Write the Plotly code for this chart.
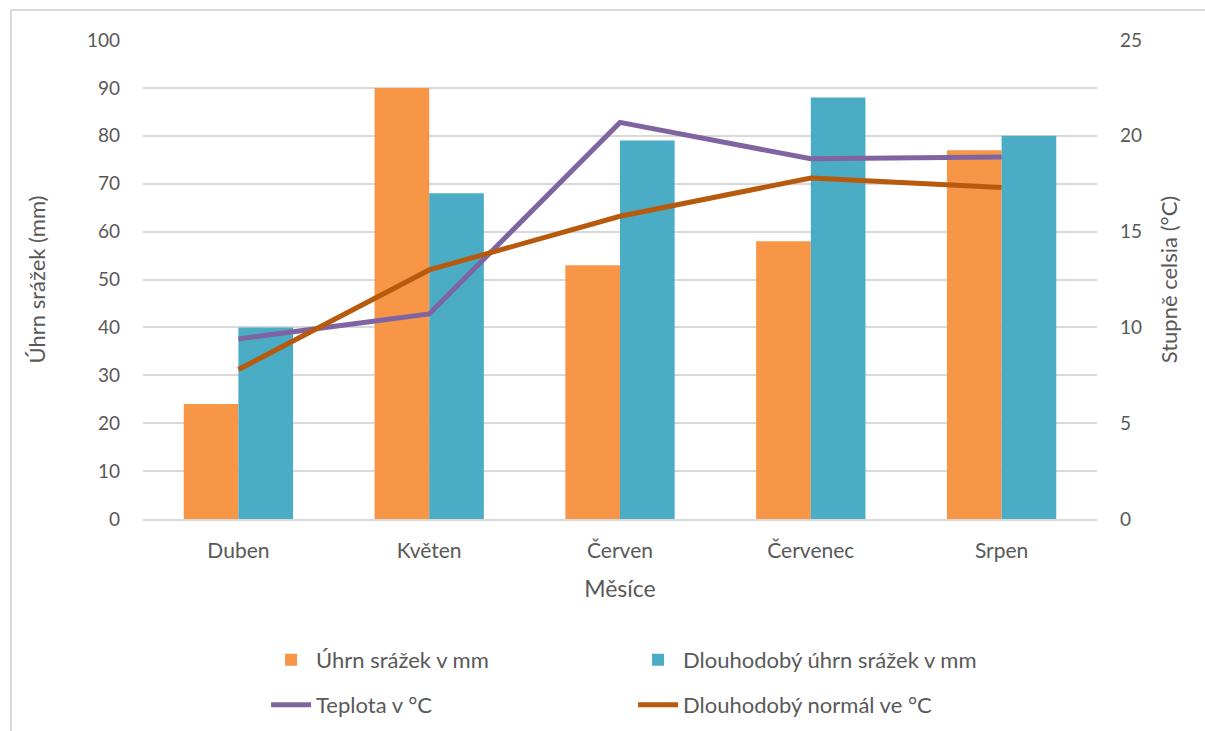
import plotly.graph_objects as go

# Monthly data
months = ["Duben", "Květen", "Červen", "Červenec", "Srpen"]
srazky = [24, 90, 53, 58, 77]             # Úhrn srážek v mm
srazky_dlouhodobe = [40, 68, 79, 88, 80]  # Dlouhodobý úhrn srážek v mm
teplota = [9.4, 10.7, 20.7, 18.8, 18.9]   # Teplota v °C
teplota_normal = [7.8, 13.0, 15.8, 17.8, 17.3]  # Dlouhodobý normál ve °C

FONT = "Lato"
TXT = "#595959"
GRID = "#d9d9d9"

fig = go.Figure()

fig.add_trace(go.Bar(
    x=months, y=srazky, name="Úhrn srážek v mm",
    marker=dict(color="#F79646", line=dict(width=0)),
    legend="legend",
))
fig.add_trace(go.Bar(
    x=months, y=srazky_dlouhodobe, name="Dlouhodobý úhrn srážek v mm",
    marker=dict(color="#4BACC6", line=dict(width=0)),
    legend="legend",
))
fig.add_trace(go.Scatter(
    x=months, y=teplota, name="Teplota v °C", yaxis="y2",
    mode="lines", line=dict(color="#8064A2", width=5),
    legend="legend2",
))
fig.add_trace(go.Scatter(
    x=months, y=teplota_normal, name="Dlouhodobý normál ve °C", yaxis="y2",
    mode="lines", line=dict(color="#B85A0D", width=5),
    legend="legend2",
))

legend_common = dict(
    orientation="h", xanchor="left", yanchor="middle",
    entrywidth=312, entrywidthmode="pixels",
    font=dict(family=FONT, size=22, color=TXT),
    bgcolor="rgba(0,0,0,0)", itemwidth=40, tracegroupgap=0,
)

fig.update_layout(
    width=1205, height=731,
    margin=dict(l=143, r=108, t=40, b=212, autoexpand=False),
    paper_bgcolor="white", plot_bgcolor="white",
    font=dict(family=FONT, size=19, color=TXT),
    barmode="group", bargap=0.427, bargroupgap=0,
    xaxis=dict(
        showgrid=False, showline=True, linecolor=GRID, linewidth=2,
        tickfont=dict(size=21, color=TXT), ticks="",
        ticklabelstandoff=12,
        title=dict(text="Měsíce", font=dict(size=23, color=TXT), standoff=20),
    ),
    yaxis=dict(
        range=[0, 100], dtick=10, showgrid=True, gridcolor=GRID, gridwidth=2,
        zeroline=False, showline=False, ticks="",
        tickfont=dict(size=19, color=TXT), ticklabelstandoff=22,
        title=dict(text="Úhrn srážek (mm)", font=dict(size=22, color=TXT), standoff=35),
    ),
    yaxis2=dict(
        range=[0, 25], dtick=5, overlaying="y", side="right",
        showgrid=False, zeroline=False, showline=False, ticks="",
        tickfont=dict(size=19, color=TXT), ticklabelstandoff=22,
        title=dict(text="Stupně celsia (°C)", font=dict(size=22, color=TXT), standoff=20),
    ),
    legend=dict(x=0.129, y=-0.294, **legend_common),
    legend2=dict(x=0.129, y=-0.388, **legend_common),
    shapes=[
        # chart frame edges
        dict(type="line", xref="paper", yref="paper", x0=-0.1384, x1=-0.1384,
             y0=1.0626, y1=-0.5, line=dict(color=GRID, width=2)),
        dict(type="line", xref="paper", yref="paper", x0=-0.1384, x1=1.2,
             y0=1.0626, y1=1.0626, line=dict(color=GRID, width=2)),
    ],
    showlegend=True,
)

fig.write_html("out.html")
